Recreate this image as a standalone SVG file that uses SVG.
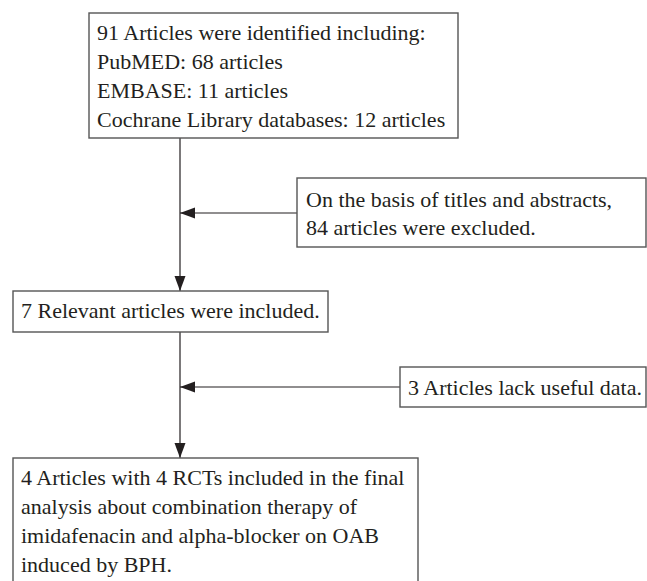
<svg xmlns="http://www.w3.org/2000/svg" width="647" height="581" viewBox="0 0 647 581">
<defs>
<style>
.box{fill:#fff;stroke:#555;stroke-width:1.4}
.t{font-family:"Liberation Serif","Times New Roman",serif;font-size:22px;fill:#231f20}
.ln{stroke:#231f20;stroke-width:1.2;fill:none}
</style>
<marker id="ah" markerWidth="16" markerHeight="12" refX="15" refY="6" orient="auto" markerUnits="userSpaceOnUse">
<path d="M0,0.5 L15,6 L0,11.5 Z" fill="#231f20"/>
</marker>
</defs>
<rect width="647" height="581" fill="#fff"/>
<g id="connectors">
<line class="ln" x1="180" y1="138" x2="180" y2="291" marker-end="url(#ah)"/>
<line class="ln" x1="297" y1="213" x2="180" y2="213" marker-end="url(#ah)"/>
<line class="ln" x1="180" y1="332" x2="180" y2="458" marker-end="url(#ah)"/>
<line class="ln" x1="400" y1="387" x2="180" y2="387" marker-end="url(#ah)"/>
</g>
<g id="n1">
<rect class="box" x="89" y="13" width="369" height="125"/>
<text class="t" x="97" y="40">91 Articles were identified including:</text>
<text class="t" x="97" y="69">PubMED: 68 articles</text>
<text class="t" x="97" y="98">EMBASE: 11 articles</text>
<text class="t" x="97" y="127">Cochrane Library databases: 12 articles</text>
</g>
<g id="n2">
<rect class="box" x="297" y="178" width="349" height="69"/>
<text class="t" x="306" y="207">On the basis of titles and abstracts,</text>
<text class="t" x="306" y="235">84 articles were excluded.</text>
</g>
<g id="n3">
<rect class="box" x="13" y="291" width="315" height="41"/>
<text class="t" x="21" y="318">7 Relevant articles were included.</text>
</g>
<g id="n4">
<rect class="box" x="400" y="367" width="246" height="40"/>
<text class="t" x="408" y="395">3 Articles lack useful data.</text>
</g>
<g id="n5">
<rect class="box" x="13" y="458" width="405" height="140"/>
<text class="t" x="21" y="485">4 Articles with 4 RCTs included in the final</text>
<text class="t" x="21" y="514">analysis about combination therapy of</text>
<text class="t" x="21" y="543">imidafenacin and alpha-blocker on OAB</text>
<text class="t" x="21" y="572">induced by BPH.</text>
</g>
</svg>
